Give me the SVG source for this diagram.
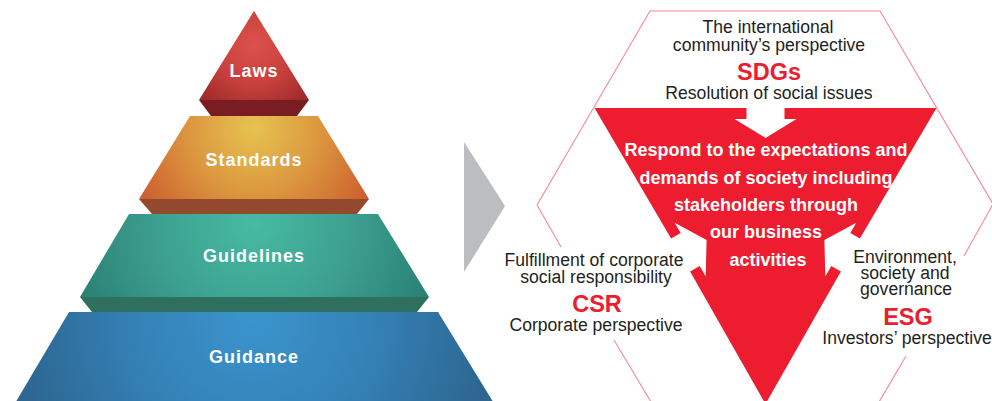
<svg xmlns="http://www.w3.org/2000/svg" width="992" height="401" viewBox="0 0 992 401">
  <defs>
    <radialGradient id="gLaws" gradientUnits="userSpaceOnUse" cx="254" cy="45" r="72">
      <stop offset="0" stop-color="#dc514b"/>
      <stop offset="0.55" stop-color="#c8403d"/>
      <stop offset="1" stop-color="#9e2b2b"/>
    </radialGradient>
    <radialGradient id="gStandards" gradientUnits="userSpaceOnUse" cx="254" cy="128" r="130">
      <stop offset="0" stop-color="#e7c350"/>
      <stop offset="0.5" stop-color="#dc973f"/>
      <stop offset="1" stop-color="#cc6030"/>
    </radialGradient>
    <radialGradient id="gGuidelines" gradientUnits="userSpaceOnUse" cx="254" cy="224" r="185">
      <stop offset="0" stop-color="#47bba4"/>
      <stop offset="0.55" stop-color="#3c9e8e"/>
      <stop offset="1" stop-color="#2a8175"/>
    </radialGradient>
    <radialGradient id="gGuidance" gradientUnits="userSpaceOnUse" cx="254" cy="318" r="240">
      <stop offset="0" stop-color="#3a95cd"/>
      <stop offset="0.5" stop-color="#3481b6"/>
      <stop offset="1" stop-color="#2d6690"/>
    </radialGradient>
    <style>
      .tier { font-family: "Liberation Sans", Arial, sans-serif; font-weight: bold; font-size: 18px; letter-spacing: 1px; fill: #ffffff; text-anchor: middle; }
      .lbl { font-family: "Liberation Sans", Arial, sans-serif; font-size: 17.6px; fill: #231f20; text-anchor: middle; }
      .key { font-family: "Liberation Sans", Arial, sans-serif; font-weight: bold; font-size: 23.5px; fill: #ed1c2e; text-anchor: middle; }
      .core { font-family: "Liberation Sans", Arial, sans-serif; font-weight: bold; font-size: 18px; fill: #ffffff; text-anchor: middle; }
      .hex { fill: none; stroke: #f28a90; stroke-width: 1.1; }
    </style>
  </defs>

  <!-- Pyramid tiers -->
  <g id="guidance">
    <polygon points="69,312 438,312 495,405 14,405" fill="url(#gGuidance)"/>
    <text class="tier" x="254" y="363">Guidance</text>
  </g>
  <g id="guidelines">
    <polygon points="80,297 429,297 417,312 92,312" fill="#2f6f5f"/>
    <polygon points="129,214 378,214 429,297 80,297" fill="url(#gGuidelines)"/>
    <text class="tier" x="254" y="262">Guidelines</text>
  </g>
  <g id="standards">
    <polygon points="139,199 369,199 357,214 152,214" fill="#93492d"/>
    <polygon points="190,116 318,116 369,199 139,199" fill="url(#gStandards)"/>
    <text class="tier" x="254" y="166">Standards</text>
  </g>
  <g id="laws">
    <polygon points="199,100 309,100 297,116 211,116" fill="#7a1d22"/>
    <polygon points="254,11 309,100 199,100" fill="url(#gLaws)"/>
    <text class="tier" x="254" y="77">Laws</text>
  </g>

  <!-- Connectors -->
  <g id="connectors">
    <polygon points="464,142 505,206 464,272" fill="#bcbdc0"/>
  </g>

  <!-- Hexagon outline, broken where side labels sit -->
  <g id="hexagon">
    <polyline class="hex" points="537,205 650,11 880,11 993,204"/>
    <line class="hex" x1="993" y1="204" x2="964" y2="256"/>
    <line class="hex" x1="906" y1="356" x2="879" y2="402"/>
    <line class="hex" x1="537" y1="205" x2="561" y2="247"/>
    <line class="hex" x1="614" y1="340" x2="651" y2="402"/>
  </g>

  <!-- Central triangle with three inward arrow notches -->
  <g id="core">
    <polygon fill="#ed1c2e" points="594.5,108 746.5,108 746.5,119 734.5,119 765.5,138 796.5,119 784.5,119 784.5,108 936.5,108 859.9,238.6 850.3,233.1 856.3,222.7 824.4,240 825.3,276.4 831.3,266 840.9,271.5 765.5,404 690.1,271.5 699.7,266 705.7,276.4 706.6,240 674.7,222.7 680.7,233.1 671.1,238.6"/>
    <text class="core" x="766" y="156">Respond to the expectations and</text>
    <text class="core" x="766" y="184">demands of society including</text>
    <text class="core" x="766" y="211">stakeholders through</text>
    <text class="core" x="766" y="238">our business</text>
    <text class="core" x="768" y="266">activities</text>
  </g>

  <g id="sdgs">
    <text class="lbl"><tspan x="768" y="33">The international</tspan><tspan x="769" y="51">community’s perspective</tspan></text>
    <text class="key" x="769" y="80">SDGs</text>
    <text class="lbl" x="769" y="99">Resolution of social issues</text>
  </g>

  <g id="csr">
    <text class="lbl"><tspan x="594" y="266">Fulfillment of corporate</tspan><tspan x="596" y="283">social responsibility</tspan></text>
    <text class="key" x="597" y="312">CSR</text>
    <text class="lbl" x="596" y="331">Corporate perspective</text>
  </g>

  <g id="esg">
    <text class="lbl"><tspan x="905" y="263">Environment,</tspan><tspan x="905" y="279">society and</tspan><tspan x="906" y="295">governance</tspan></text>
    <text class="key" x="908" y="325">ESG</text>
    <text class="lbl" x="907" y="344">Investors’ perspective</text>
  </g>
</svg>
